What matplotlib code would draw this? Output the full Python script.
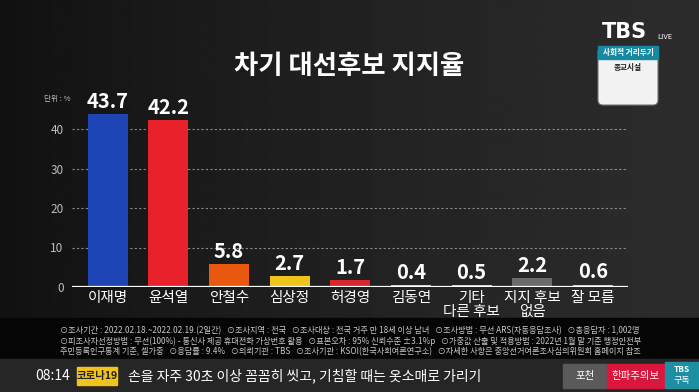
import numpy as np
import matplotlib.pyplot as plt
from matplotlib.patches import FancyBboxPatch, Rectangle

plt.rcParams['font.family'] = ['Noto Sans CJK KR', 'DejaVu Sans']

candidates = ["이재명", "윤석열", "안철수", "심상정", "허경영", "김동연",
              "기타\n다른 후보", "지지 후보\n없음", "잘 모름"]
support = [43.7, 42.2, 5.8, 2.7, 1.7, 0.4, 0.5, 2.2, 0.6]
bar_colors = ["#1d45b5", "#e8212b", "#e9580f", "#f0c419", "#d9262e",
              "#d0d0d0", "#d0d0d0", "#6b6b6b", "#d0d0d0"]
yticks = [0, 10, 20, 30, 40]

footer_lines = [
    "⊙조사기간 : 2022.02.18.~2022.02.19.(2일간)   ⊙조사지역 : 전국   ⊙조사대상 : 전국 거주 만 18세 이상 남녀   "
    "⊙조사방법 : 무선 ARS(자동응답조사)   ⊙총응답자 : 1,002명",
    "⊙피조사자선정방법 : 무선(100%) - 통신사 제공 휴대전화 가상번호 활용   ⊙표본오차 : 95% 신뢰수준 ±3.1%p   "
    "⊙가중값 산출 및 적용방법 : 2022년 1월 말 기준 행정안전부",
    "주민등록인구통계 기준, 셀가중   ⊙응답률 : 9.4%   ⊙의뢰기관 : TBS   ⊙조사기관 : KSOI(한국사회여론연구소)   "
    "⊙자세한 사항은 중앙선거여론조사심의위원회 홈페이지 참조",
]
ticker = "손을 자주 30초 이상 꼼꼼히 씻고, 기침할 때는 옷소매로 가리기"

W, H = 699, 392
fig = plt.figure(figsize=(W / 100, H / 100), dpi=100)

# background with a dark left edge
bg = fig.add_axes([0, 0, 1, 1])
grad = np.clip(np.linspace(0.03, 0.15, 256) ** 0.6 * 0.55, 0, 0.17)
bg.imshow(np.tile(grad, (2, 1)), cmap="gray", vmin=0, vmax=1, aspect="auto",
          extent=[0, W, 0, H])
bg.set_xlim(0, W)
bg.set_ylim(0, H)
bg.axis("off")

# footer and ticker strips
bg.add_patch(Rectangle((0, 33), W, 41, color="#050505"))
bg.add_patch(Rectangle((0, 0), W, 33, color="#262626"))
for i, line in enumerate(footer_lines):
    bg.text(60, 61 - i * 10.5, line, color="#c8c8c8", fontsize=5.9,
            va="center")

bg.text(35, 16, "08:14", color="white", fontsize=10, va="center")
bg.add_patch(Rectangle((77, 7), 40, 18, color="#f2c31b"))
bg.text(97, 16, "코로나19", color="#222222", fontsize=7.5, va="center",
        ha="center", fontweight="bold")
bg.text(128, 16, ticker, color="white", fontsize=10, va="center")
bg.add_patch(Rectangle((563, 4), 44, 24, color="#5a5a5a"))
bg.text(585, 16, "포천", color="white", fontsize=7.5, va="center", ha="center")
bg.add_patch(Rectangle((607, 4), 58, 24, color="#d9163b"))
bg.text(636, 16, "한파주의보", color="white", fontsize=7.5, va="center",
        ha="center")
bg.add_patch(Rectangle((665, 4), 34, 26, color="#1c8fa5"))
bg.text(682, 22, "TBS", color="white", fontsize=6, va="center", ha="center",
        fontweight="bold")
bg.text(682, 11, "구독", color="white", fontsize=6.5, va="center", ha="center")

# TBS logo and info box
bg.text(602, 360, "TBS", color="white", fontsize=15, fontweight="black",
        va="center", family="DejaVu Sans")
bg.text(657, 355, "LIVE", color="white", fontsize=5.5, va="center")
bg.add_patch(FancyBboxPatch((598, 287), 60, 58,
                            boxstyle="round,pad=0,rounding_size=5",
                            fc="#f2f2f2", ec="#777777", lw=0.8))
bg.add_patch(Rectangle((598, 333), 60, 13, color="#168aa3"))
bg.text(628, 339.5, "사회적 거리두기", color="white", fontsize=5.5,
        va="center", ha="center", fontweight="bold")
bg.text(628, 325, "종교시설", color="#222222", fontsize=5.5, va="center",
        ha="center", fontweight="bold")

bg.text(W / 2, H - 66, "차기 대선후보 지지율", color="white", fontsize=19,
        fontweight="bold", ha="center", va="center")

# chart
ax = fig.add_axes([72 / W, 105 / H, 556 / W, 197.5 / H])
ax.patch.set_alpha(0)
x = np.arange(len(candidates))
ax.bar(x, support, width=0.66, color=bar_colors, zorder=3)
for xi, v in zip(x, support):
    ax.text(xi, v + 0.6, f"{v}", color="white", fontsize=14.5, ha="center",
            va="bottom", fontweight="bold")
ax.set_xlim(-0.59, 8.58)
ax.set_ylim(0, 50)
ax.set_yticks(yticks)
ax.set_yticklabels([str(t) for t in yticks], color="#bdbdbd", fontsize=8.5)
ax.tick_params(axis="y", length=0, pad=6)
ax.set_xticks(x)
ax.set_xticklabels(candidates, color="white", fontsize=10.5, linespacing=0.95,
                   va="top")
ax.tick_params(axis="x", length=0, pad=3)
for t in yticks[1:]:
    ax.axhline(t, color="#8a8a8a", lw=0.8, ls=(0, (2, 2)), zorder=1)
ax.axhline(0, color="white", lw=1.6, zorder=4)
for s in ax.spines.values():
    s.set_visible(False)
ax.text(-0.62, 47.5, "단위 : %", color="#bdbdbd", fontsize=5.5, ha="right",
        va="center")

fig.savefig("out.png", dpi=100, facecolor="#1a1a1a")
